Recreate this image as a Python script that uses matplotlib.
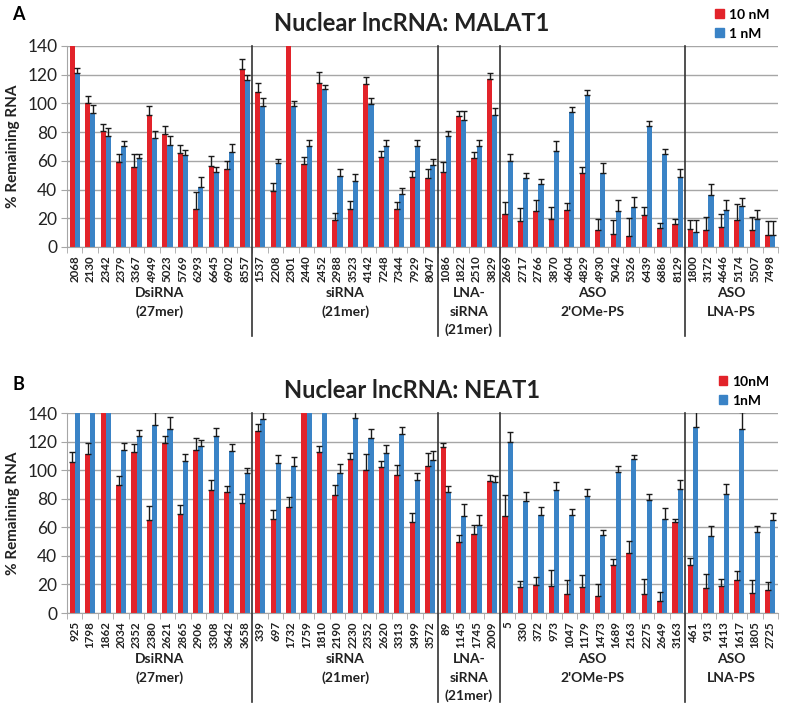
import numpy as np
import matplotlib
matplotlib.use("Agg")
import matplotlib.pyplot as plt
from matplotlib.patches import Patch

plt.rcParams['font.family'] = ['Lato', 'DejaVu Sans']

# group names (shared by both panels), one list entry per text line
group_names = [["DsiRNA", "(27mer)"], ["siRNA", "(21mer)"], ["LNA-", "siRNA", "(21mer)"],
               ["ASO", "2'OMe-PS"], ["ASO", "LNA-PS"]]

# ---- panel A: MALAT1 ----
a_dsi = ['2068', '2130', '2342', '2379', '3367', '4949', '5023', '5769', '6293', '6645', '6902', '8557']
a_si = ['1537', '2208', '2301', '2440', '2452', '2988', '3523', '4142', '7248', '7344', '7929', '8047']
a_lna = ['1086', '1822', '2510', '3829']
a_ome = ['2669', '2717', '2766', '3870', '4604', '4829', '4930', '5042', '5326', '6439', '6886', '8129']
a_lnaps = ['1800', '3172', '4646', '5174', '5507', '7498']

a_10nm = [150, 100, 81, 59.5, 56, 91.7, 78.6, 65.3, 26.8, 56.7, 54.4, 124,
          108.3, 39.2, 150, 58, 114, 18.7, 26.8, 113.2, 62.5, 26.8, 49, 47.8,
          52, 91, 62.3, 116.7,
          23.3, 18.2, 25, 19.8, 26.1, 51.3, 12.1, 9.3, 7.7, 22.6, 13.3, 15.9,
          12.4, 11.7, 14, 18.7, 12.1, 8.6]
a_10nm_err = [0, 5, 5, 5.4, 9, 6.3, 5.4, 5.4, 11.7, 7, 5.6, 7,
              5.7, 5.1, 0, 5, 8, 5.1, 5.2, 5.3, 4.7, 4.7, 4, 6.2,
              7.5, 4, 4.2, 4.2,
              8.2, 9.3, 8, 8.2, 4.2, 4.2, 7.7, 9.4, 12.8, 5.4, 3.5, 3.5,
              6.3, 9.3, 9.3, 11.2, 8.9, 9.4]
a_1nm = [121.5, 93, 77.5, 70, 61.8, 75.8, 70.7, 64.2, 42, 52, 66, 116,
         98.5, 58.3, 98, 70.5, 110, 49.5, 46.2, 99.9, 70, 36.6, 70, 57.2,
         77.5, 88.2, 70, 92.2,
         60.2, 48.3, 43.6, 67, 93.8, 105.7, 51.8, 25, 28, 84, 64.6, 49,
         10.5, 36.2, 26.1, 28.7, 19.4, 8.6]
a_1nm_err = [3.2, 5.6, 5.3, 3.5, 3.2, 5.2, 6.3, 3.5, 7, 4, 5.6, 4,
             5.1, 3.3, 4, 4.2, 2.7, 4.5, 4.4, 3.7, 4.2, 4.2, 4.2, 3.9,
             3, 6.3, 4.7, 4.6,
             4.7, 3.5, 3.5, 6.5, 3.7, 3.7, 6.5, 7.7, 7, 3.5, 3.8, 5.1,
             8.2, 7.4, 6.9, 5.1, 6.3, 9.4]

# ---- panel B: NEAT1 ----
b_dsi = ['925', '1798', '1862', '2034', '2352', '2380', '2621', '2865', '2906', '3308', '3642', '3658']
b_si = ['339', '697', '1732', '1759', '1810', '2190', '2230', '2352', '2620', '3313', '3499', '3572']
b_lna = ['89', '1145', '1745', '2009']
b_ome = ['5', '330', '372', '973', '1047', '1179', '1473', '1689', '2163', '2275', '2649', '3163']
b_lnaps = ['461', '913', '1413', '1617', '1805', '2725']

b_10nm = [105.5, 111.5, 150, 89.8, 112.7, 64.9, 119, 69.5, 113.9, 86.3, 84.5, 77,
          127.6, 66, 74.2, 150, 112.7, 82.8, 107.8, 100.3, 102, 96.8, 63.5, 103.1,
          116, 49.7, 55.5, 92.2,
          68.1, 18, 19.4, 18.7, 13.5, 18.2, 12.1, 33.6, 42, 13.1, 8.2, 63.5,
          33.6, 17.5, 19.1, 23.3, 14, 16.3]
b_10nm_err = [7, 7.5, 0, 5.9, 5.8, 10.2, 4.7, 6.3, 8.6, 6.6, 4.6, 6.5,
              4.9, 6.3, 7, 0, 4, 6.6, 4.2, 11, 4.6, 7, 6.5, 8.9,
              3, 5.1, 6.3, 4.2,
              14.3, 4.6, 5.6, 11.2, 9.4, 8.6, 8.4, 4.2, 8.2, 10.9, 6.3, 2.5,
              4.9, 10, 4.9, 5.9, 9.3, 5.2]
b_1nm = [150, 150, 150, 113.9, 124.1, 131.8, 128.8, 106.2, 116.7, 124.1, 113.4, 98,
         136, 105, 102.7, 150, 150, 98, 136.5, 122.5, 112, 125.3, 93.3, 107.3,
         84.7, 67.7, 61.8, 91.5,
         119.7, 78.6, 68.8, 86.3, 68.8, 82.1, 54.4, 98.5, 107.8, 79.3, 65.8, 87,
         130, 54.1, 83.3, 128.8, 56.7, 64.9]
b_1nm_err = [0, 0, 0, 5.1, 4.2, 9, 8.4, 5.3, 4.2, 5.4, 5.1, 3.5,
             5, 5.4, 6.5, 0, 0, 6.3, 5, 6.3, 5.8, 4.7, 4.7, 5.9,
             4.4, 8.8, 7, 4.2,
             6.8, 5.9, 5.2, 5.2, 4, 4.9, 3.9, 4.6, 3, 4.2, 7.7, 5.9,
             12, 6.6, 7.2, 12, 4.4, 5.1]

RED = '#E2232A'
BLUE = '#3A83C6'
GRID = '#A6A6A6'
TXT = '#222222'


def draw_panel(ax, groups, v10, e10, v1, e1, title, leg_labels, ax_h):
    labels = [lab for g in groups for lab in g]
    n = len(labels)
    x = np.arange(n)
    w = 0.33

    ax.set_axisbelow(True)
    ax.yaxis.grid(True, color=GRID, linewidth=1)
    ax.bar(x - w / 2, v10, w, color=RED, zorder=2)
    ax.bar(x + w / 2, v1, w, color=BLUE, zorder=2)
    ax.errorbar(x - w / 2, v10, yerr=[np.zeros(n), e10], fmt='none',
                ecolor='#1a1a1a', elinewidth=1, capsize=2.5, capthick=1, zorder=3)
    ax.errorbar(x + w / 2, v1, yerr=[np.zeros(n), e1], fmt='none',
                ecolor='#1a1a1a', elinewidth=1, capsize=2.5, capthick=1, zorder=3)

    ax.set_xlim(-0.5, n - 0.5)
    ax.set_ylim(0, 140)
    ax.set_yticks(np.arange(0, 141, 20))
    ax.tick_params(axis='y', labelsize=12.5, length=4, color=GRID, pad=3, labelcolor=TXT)

    ax.set_xticks(x)
    ax.set_xticklabels(labels, rotation=90, fontsize=8.3, fontweight='bold', color=TXT)
    ax.set_xticks(np.arange(-0.5, n, 1), minor=True)
    ax.tick_params(axis='x', which='major', length=0, pad=6)
    ax.tick_params(axis='x', which='minor', length=4, color=GRID)

    for s in ['top', 'right']:
        ax.spines[s].set_visible(False)
    for s in ['left', 'bottom']:
        ax.spines[s].set_color(GRID)

    ax.set_ylabel('% Remaining RNA', fontsize=11, fontweight='bold', labelpad=5, color=TXT)

    # section dividers and group names (line centres 46, 65, 83 px below the axis)
    trans = ax.get_xaxis_transform()
    line_px = [46, 65, 83]
    start = 0
    for i, g in enumerate(groups):
        end = start + len(g)
        center = (start + end - 1) / 2
        for k, line in enumerate(group_names[i]):
            ax.text(center, -line_px[k] / ax_h, line, transform=trans,
                    ha='center', va='center', fontsize=10, fontweight='bold',
                    color=TXT, clip_on=False)
        if i < len(groups) - 1:
            ax.plot([end - 0.5, end - 0.5], [1, -89 / ax_h], transform=trans,
                    color='#333333', linewidth=1.2, clip_on=False, zorder=4)
        start = end

    ax.set_title(title, fontsize=17, fontweight='bold', pad=11, x=0.485, color=TXT)

    handles = [Patch(color=RED), Patch(color=BLUE)]
    ax.legend(handles, leg_labels, loc='lower right', bbox_to_anchor=(1.0, 0.99),
              frameon=False, handlelength=0.6, handleheight=0.6,
              handletextpad=0.4, labelspacing=0.5, borderaxespad=0.2,
              prop={'weight': 'bold', 'size': 10})


fig = plt.figure(figsize=(7.96, 7.05), dpi=100)

axA = fig.add_axes([67 / 796, 1 - 247 / 705, 711 / 796, 201 / 705])
draw_panel(axA, [a_dsi, a_si, a_lna, a_ome, a_lnaps], a_10nm, a_10nm_err, a_1nm, a_1nm_err,
           'Nuclear lncRNA: MALAT1', ['10 nM', '1 nM'], 201)

axB = fig.add_axes([67 / 796, 1 - 613 / 705, 711 / 796, 200 / 705])
draw_panel(axB, [b_dsi, b_si, b_lna, b_ome, b_lnaps], b_10nm, b_10nm_err, b_1nm, b_1nm_err,
           'Nuclear lncRNA: NEAT1', ['10nM', '1nM'], 200)

fig.text(12 / 796, 1 - 15 / 705, 'A', fontsize=13, fontweight='bold', va='center')
fig.text(12 / 796, 1 - 385 / 705, 'B', fontsize=13, fontweight='bold', va='center')

fig.savefig('out.png', dpi=100)
